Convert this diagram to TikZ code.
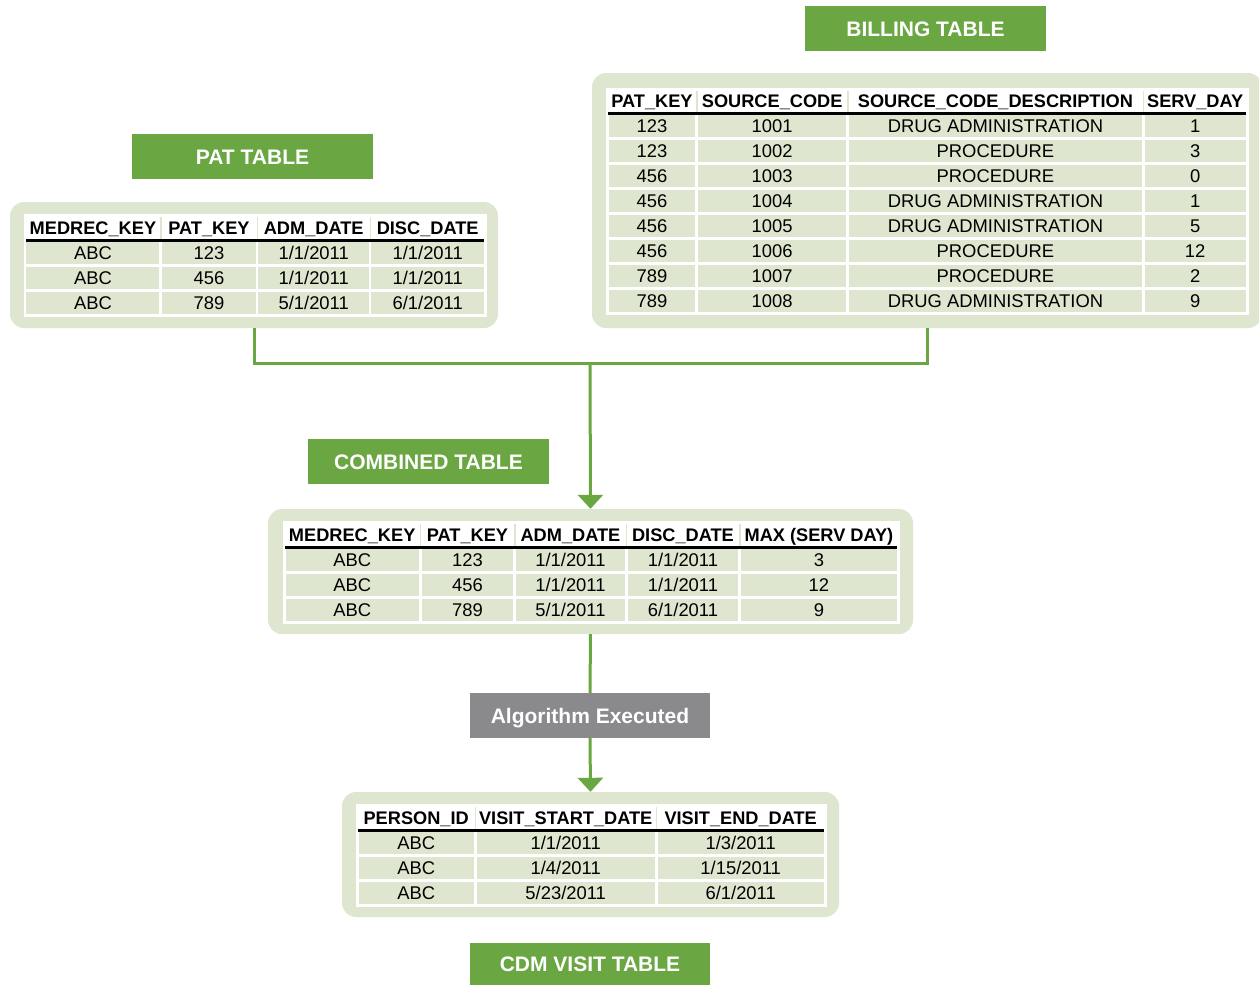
\documentclass[tikz,border=0pt]{standalone}
\usepackage{fontspec}
\setmainfont{Liberation Sans}
\usetikzlibrary{matrix,arrows.meta}
\definecolor{lgreen}{HTML}{6AA642}
\definecolor{panelc}{HTML}{DEE6CF}
\definecolor{grayc}{HTML}{8A8A8C}
\tikzset{
  panel/.style={fill=panelc, draw=none, rounded corners=14pt, inner sep=0pt},
  tag/.style={fill=lgreen, text=white, inner sep=0pt, minimum width=241pt, minimum height=45pt,
    font=\bfseries\fontsize{21}{23}\selectfont, text height=15pt, text depth=0pt},
  graytag/.style={tag, fill=grayc, minimum width=240pt},
  tab/.style={matrix of nodes, inner sep=0pt, row sep=2.6pt, column sep=2.6pt, anchor=north west,
    nodes={fill=panelc, draw=none, inner sep=0pt, minimum height=22.4pt,
      text height=13pt, text depth=0pt, font=\fontsize{18.4}{20}\selectfont},
    row 1/.style={nodes={fill=white, font=\bfseries\fontsize{18.2}{20}\selectfont}}},
  cwd/.style={nodes={minimum width=#1pt-2.6pt}},
  hsep/.style={draw=panelc, line width=1.6pt},
  hline/.style={draw=black, line width=2.6pt},
  conn/.style={draw=lgreen, line width=3pt},
  arr/.style={-{Triangle[width=25pt,length=14pt]}}
}
\begin{document}
\begin{tikzpicture}[x=1pt,y=-1pt]
\useasboundingbox (0,0) rectangle (1259,985);

% ---------- PAT TABLE ----------
\node[tag] (pattag) at (252.5,156.5) {PAT TABLE};
\node[panel, minimum width=488pt, minimum height=126pt] (pat) at (254,265) {};
\fill[white] (23.5,213.5) rectangle (486.5,316.5);
\matrix (patm) [tab, at={(26.3,216.3)},
  column 1/.style={cwd=135.5}, column 2/.style={cwd=96.5},
  column 3/.style={cwd=113}, column 4/.style={cwd=115}] {
  MEDREC\_KEY & PAT\_KEY & ADM\_DATE & DISC\_DATE \\
  ABC & 123 & 1/1/2011 & 1/1/2011 \\
  ABC & 456 & 1/1/2011 & 1/1/2011 \\
  ABC & 789 & 5/1/2011 & 6/1/2011 \\
};
\foreach \c in {1,2,3}
  \draw[hsep] ([xshift=1.3pt,yshift=-1pt]patm-1-\c.north east) -- ([xshift=1.3pt]patm-1-\c.south east);
\draw[hline] ([yshift=-1.3pt]patm-1-1.south west) -- ([yshift=-1.3pt]patm-1-4.south east);

% ---------- BILLING TABLE ----------
\node[tag] (billtag) at (925.5,28.5) {BILLING TABLE};
\node[panel, minimum width=670pt, minimum height=255pt] (bill) at (927,200.5) {};
\fill[white] (605.5,87.5) rectangle (1248.5,314.5);
\matrix (billm) [tab, at={(608.3,90.3)},
  row 1/.append style={nodes={minimum height=21.4pt}},
  column 1/.style={cwd=89.5}, column 2/.style={cwd=151},
  column 3/.style={cwd=295.5}, column 4/.style={cwd=104}] {
  PAT\_KEY & SOURCE\_CODE & SOURCE\_CODE\_DESCRIPTION & SERV\_DAY \\
  123 & 1001 & DRUG ADMINISTRATION & 1 \\
  123 & 1002 & PROCEDURE & 3 \\
  456 & 1003 & PROCEDURE & 0 \\
  456 & 1004 & DRUG ADMINISTRATION & 1 \\
  456 & 1005 & DRUG ADMINISTRATION & 5 \\
  456 & 1006 & PROCEDURE & 12 \\
  789 & 1007 & PROCEDURE & 2 \\
  789 & 1008 & DRUG ADMINISTRATION & 9 \\
};
\foreach \c in {1,2,3}
  \draw[hsep] ([xshift=1.3pt,yshift=-1pt]billm-1-\c.north east) -- ([xshift=1.3pt]billm-1-\c.south east);
\draw[hline] ([yshift=-1.3pt]billm-1-1.south west) -- ([yshift=-1.3pt]billm-1-4.south east);

% ---------- COMBINED TABLE ----------
\node[tag] (combtag) at (428.5,461.5) {COMBINED TABLE};
\node[panel, minimum width=645pt, minimum height=125pt] (comb) at (590.5,571.5) {};
\fill[white] (282.5,520.5) rectangle (899.5,623.5);
\matrix (combm) [tab, at={(285.3,523.3)},
  column 1/.style={cwd=136}, column 2/.style={cwd=94.5},
  column 3/.style={cwd=111.5}, column 4/.style={cwd=113.5}, column 5/.style={cwd=158.5}] {
  MEDREC\_KEY & PAT\_KEY & ADM\_DATE & DISC\_DATE & MAX (SERV DAY) \\
  ABC & 123 & 1/1/2011 & 1/1/2011 & 3 \\
  ABC & 456 & 1/1/2011 & 1/1/2011 & 12 \\
  ABC & 789 & 5/1/2011 & 6/1/2011 & 9 \\
};
\foreach \c in {1,2,3,4}
  \draw[hsep] ([xshift=1.3pt,yshift=-1pt]combm-1-\c.north east) -- ([xshift=1.3pt]combm-1-\c.south east);
\draw[hline] ([yshift=-1.3pt]combm-1-1.south west) -- ([yshift=-1.3pt]combm-1-5.south east);

% ---------- ALGORITHM ----------
\node[graytag] (algo) at (590,715.5) {Algorithm Executed};

% ---------- CDM VISIT TABLE ----------
\node[panel, minimum width=497pt, minimum height=125pt] (cdm) at (590.5,854.5) {};
\fill[white] (355.5,803.5) rectangle (826.5,906.5);
\matrix (cdmm) [tab, at={(358.3,806.3)},
  column 1/.style={cwd=118}, column 2/.style={cwd=181}, column 3/.style={cwd=169}] {
  PERSON\_ID & VISIT\_START\_DATE & VISIT\_END\_DATE \\
  ABC & 1/1/2011 & 1/3/2011 \\
  ABC & 1/4/2011 & 1/15/2011 \\
  ABC & 5/23/2011 & 6/1/2011 \\
};
\foreach \c in {1,2}
  \draw[hsep] ([xshift=1.3pt,yshift=-1pt]cdmm-1-\c.north east) -- ([xshift=1.3pt]cdmm-1-\c.south east);
\draw[hline] ([yshift=-1.3pt]cdmm-1-1.south west) -- ([yshift=-1.3pt]cdmm-1-3.south east);
\node[tag, minimum width=240pt, minimum height=42pt] (cdmtag) at (590,964) {CDM VISIT TABLE};

% ---------- CONNECTORS ----------
\coordinate (j) at (590,363);
\draw[conn] (pat.south) |- (j) -| (bill.south);
\draw[conn, arr] (j) -- (comb.north);
\draw[conn] (comb.south) -- (algo.north);
\draw[conn, arr] (algo.south) -- (cdm.north);
\end{tikzpicture}
\end{document}
